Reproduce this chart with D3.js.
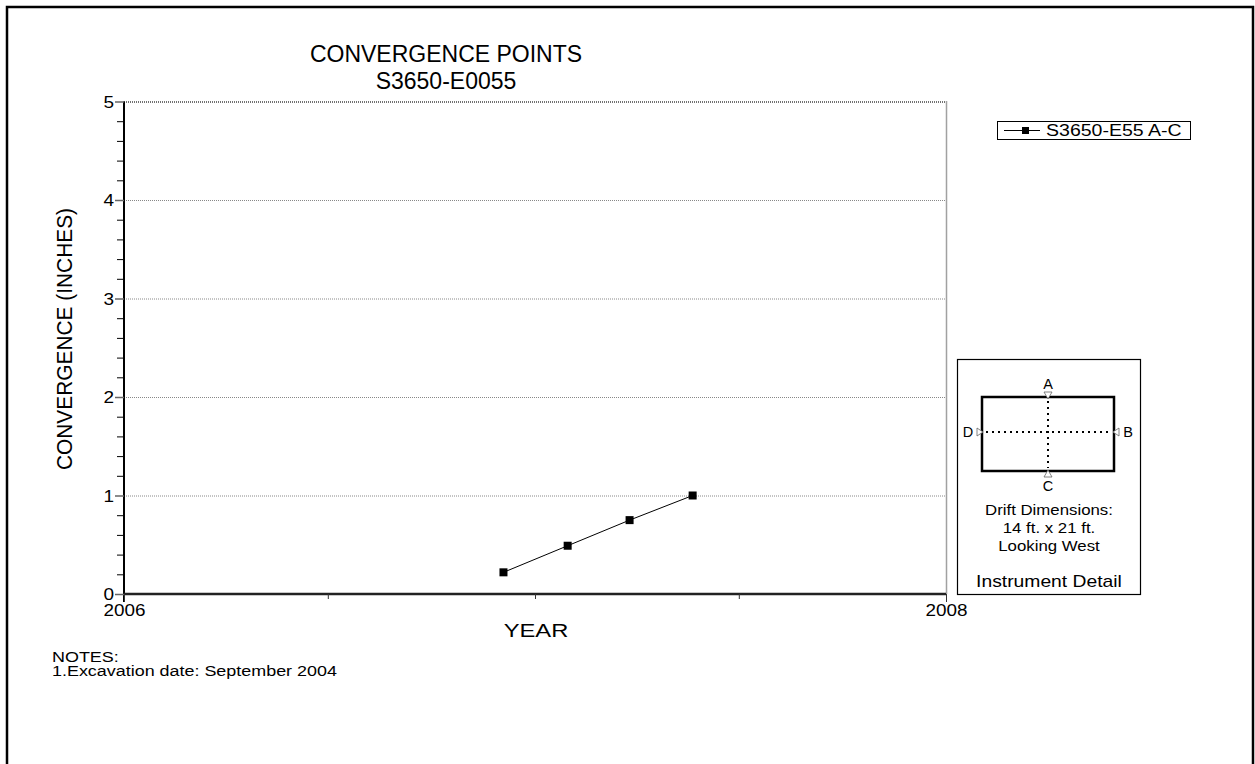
<!DOCTYPE html>
<html>
<head>
<meta charset="utf-8">
<script src="https://cdn.jsdelivr.net/npm/d3@7"></script>
<style>
  body { margin: 0; background: #fff; }
  svg text { font-family: 'Liberation Sans', Arial, sans-serif; fill: #000; }
</style>
</head>
<body>
<svg id="chart"></svg>
<script>
'use strict';

// data
const readDates   = [ '2006-12-04', '2007-01-30', '2007-03-26', '2007-05-21' ],
      convergence = [ 0.22, 0.49, 0.75, 1.00 ];

const seriesName  = 'S3650-E55 A-C',
      titleLines  = [ 'CONVERGENCE POINTS', 'S3650-E0055' ],
      yTicks      = [ 0, 1, 2, 3, 4, 5 ],
      xLabelYears = [ 2006, 2008 ],
      notes       = [ 'NOTES:', '1.Excavation date: September 2004' ],
      detailText  = [ 'Drift Dimensions:', '14 ft. x 21 ft.', 'Looking West' ];

const param = {
  width:  1255,
  height: 764,
  margin: { top: 101.5, right: 309, bottom: 170, left: 124 }
};
param.plotW = param.width - param.margin.left - param.margin.right;
param.plotH = param.height - param.margin.top - param.margin.bottom;

const parse = d3.timeParse( '%Y-%m-%d' ),
      data  = readDates.map( (d, i) => ({ date: parse( d ), v: convergence[i] }) );

// the source picture has its text a bit wider than normal
function stretch( sel, k ) {
  sel.each( function() {
    const w = this.getComputedTextLength();
    d3.select( this )
      .attr( 'textLength', w * k )
      .attr( 'lengthAdjust', 'spacingAndGlyphs' );
  });
}

const svg = d3.select( '#chart' )
              .attr( 'width', param.width )
              .attr( 'height', param.height );

// outer frame (bottom edge runs off the page)
svg.append( 'rect' )
    .attr( 'x', 7 ).attr( 'y', 7 )
    .attr( 'width', 1246 ).attr( 'height', 820 )
    .attr( 'fill', 'none' )
    .attr( 'stroke', '#000' )
    .attr( 'stroke-width', 2.5 );

const g = svg.append( 'g' )
              .attr( 'transform', `translate(${param.margin.left},${param.margin.top})` );

// scales
const x = d3.scaleTime()
            .domain( [ new Date( 2006, 0, 1 ), new Date( 2008, 0, 1 ) ] )
            .range( [ 0, param.plotW ] ),
      y = d3.scaleLinear()
            .domain( [ 0, 5 ] )
            .range( [ param.plotH, 0 ] );

// grid lines
g.append( 'g' )
    .attr( 'class', 'grid' )
  .selectAll( 'line' )
    .data( yTicks.filter( (t) => t > 0 ) )
  .enter().append( 'line' )
    .attr( 'x1', 0 )
    .attr( 'x2', param.plotW )
    .attr( 'y1', (d) => y( d ) + 0.5 )
    .attr( 'y2', (d) => y( d ) + 0.5 )
    .attr( 'stroke', (d) => d === 5 ? '#444' : '#888' )
    .attr( 'stroke-width', (d) => d === 5 ? 1.5 : 1 )
    .attr( 'stroke-dasharray', '1,1' );

// right edge of plot
g.append( 'line' )
    .attr( 'x1', param.plotW + 0.5 ).attr( 'x2', param.plotW + 0.5 )
    .attr( 'y1', 0 ).attr( 'y2', param.plotH )
    .attr( 'stroke', '#444' )
    .attr( 'stroke-width', 1.5 )
    .attr( 'stroke-dasharray', '1,1' );

// minor y ticks
const yMinor = d3.range( 0, 5.01, 0.2 ).filter( (t) => Math.abs( t - Math.round( t ) ) > 0.01 );
g.append( 'g' )
    .attr( 'class', 'y minor' )
    .call( d3.axisLeft( y ).tickValues( yMinor ).tickSize( 7 ).tickFormat( '' ) )
    .call( (s) => s.select( '.domain' ).remove() );

// y-axis
g.append( 'g' )
    .attr( 'class', 'y axis' )
    .call( d3.axisLeft( y ).tickValues( yTicks ).tickSize( 9 ).tickPadding( 1 ).tickFormat( d3.format( 'd' ) ) )
    .call( (s) => s.select( '.domain' ).attr( 'stroke-width', 2 ).attr( 'd', `M0,${param.plotH + 8}V0` ) )
    .call( (s) => s.selectAll( '.tick line' ).attr( 'stroke', '#666' ).attr( 'stroke-width', 1.5 ) )
    .call( (s) => s.selectAll( '.tick text' ).attr( 'font-size', 16.5 ).attr( 'dy', '0.36em' ).style( 'font-family', null ) )
    .call( (s) => stretch( s.selectAll( '.tick text' ), 1.15 ) );

// x-axis
const xTickDates = d3.timeMonth.every( 6 ).range( x.domain()[0], d3.timeDay.offset( x.domain()[1], 1 ) );
g.append( 'g' )
    .attr( 'class', 'x axis' )
    .attr( 'transform', `translate(0,${param.plotH})` )
    .call( d3.axisBottom( x ).tickValues( xTickDates ).tickSize( 5 ).tickPadding( 6 )
             .tickFormat( (d) => ( d.getMonth() === 0 && xLabelYears.includes( d.getFullYear() ) ) ? d.getFullYear() : '' ) )
    .call( (s) => s.select( '.domain' ).attr( 'stroke', '#222' ).attr( 'stroke-width', 2.5 ).attr( 'd', `M0,0H${param.plotW}` ) )
    .call( (s) => s.selectAll( '.tick line' ).attr( 'stroke', '#333' ).attr( 'y2', (d) => d.getMonth() === 0 && d.getFullYear() !== 2007 ? 8 : 5 ) )
    .call( (s) => s.selectAll( '.tick text' ).attr( 'font-size', 16 ).style( 'font-family', null ) )
    .call( (s) => stretch( s.selectAll( '.tick text' ).filter( (d) => d.getMonth() === 0 && xLabelYears.includes( d.getFullYear() ) ), 1.18 ) );

// data line
const line = d3.line()
                .x( (d) => x( d.date ) )
                .y( (d) => y( d.v ) );

g.append( 'path' )
    .datum( data )
    .attr( 'd', line )
    .attr( 'fill', 'none' )
    .attr( 'stroke', '#000' )
    .attr( 'stroke-width', 1 );

g.append( 'g' )
    .attr( 'class', 'points' )
  .selectAll( 'rect' )
    .data( data )
  .enter().append( 'rect' )
    .attr( 'x', (d) => x( d.date ) - 4 )
    .attr( 'y', (d) => y( d.v ) - 4 )
    .attr( 'width', 8 )
    .attr( 'height', 8 )
    .attr( 'fill', '#000' );

// titles
svg.append( 'g' )
    .attr( 'class', 'title' )
  .selectAll( 'text' )
    .data( titleLines )
  .enter().append( 'text' )
    .attr( 'x', 446 )
    .attr( 'y', (d, i) => 62 + i * 27 )
    .attr( 'text-anchor', 'middle' )
    .attr( 'font-size', 23 )
    .text( (d) => d );

// axis titles
svg.append( 'text' )
    .attr( 'x', 536 ).attr( 'y', 637 )
    .attr( 'text-anchor', 'middle' )
    .attr( 'font-size', 19 )
    .text( 'YEAR' )
    .call( stretch, 1.25 );

svg.append( 'text' )
    .attr( 'transform', 'translate(72,339) rotate(-90)' )
    .attr( 'text-anchor', 'middle' )
    .attr( 'font-size', 22 )
    .attr( 'textLength', 262 )
    .attr( 'lengthAdjust', 'spacingAndGlyphs' )
    .text( 'CONVERGENCE (INCHES)' );

// legend
const lg = svg.append( 'g' ).attr( 'class', 'legend' );
lg.append( 'rect' )
    .attr( 'x', 997.5 ).attr( 'y', 121.5 )
    .attr( 'width', 193 ).attr( 'height', 18 )
    .attr( 'fill', '#fff' )
    .attr( 'stroke', '#000' );
lg.append( 'line' )
    .attr( 'x1', 1004 ).attr( 'x2', 1040 )
    .attr( 'y1', 130.5 ).attr( 'y2', 130.5 )
    .attr( 'stroke', '#000' );
lg.append( 'rect' )
    .attr( 'x', 1022 ).attr( 'y', 127 )
    .attr( 'width', 7 ).attr( 'height', 7 );
lg.append( 'text' )
    .attr( 'x', 1046 ).attr( 'y', 136 )
    .attr( 'font-size', 16 )
    .text( seriesName )
    .call( stretch, 1.22 );

// instrument detail
const det = svg.append( 'g' ).attr( 'class', 'detail' );
det.append( 'rect' )
    .attr( 'x', 957.5 ).attr( 'y', 359.5 )
    .attr( 'width', 183 ).attr( 'height', 235 )
    .attr( 'fill', '#fff' )
    .attr( 'stroke', '#000' )
    .attr( 'stroke-width', 1.2 );
det.append( 'rect' )
    .attr( 'x', 982 ).attr( 'y', 397 )
    .attr( 'width', 132 ).attr( 'height', 74 )
    .attr( 'fill', 'none' )
    .attr( 'stroke', '#000' )
    .attr( 'stroke-width', 2.5 );
det.append( 'line' )
    .attr( 'x1', 1048 ).attr( 'x2', 1048 )
    .attr( 'y1', 401 ).attr( 'y2', 468 )
    .attr( 'stroke', '#000' ).attr( 'stroke-width', 2 )
    .attr( 'stroke-dasharray', '2,4' );
det.append( 'line' )
    .attr( 'x1', 986 ).attr( 'x2', 1110 )
    .attr( 'y1', 432 ).attr( 'y2', 432 )
    .attr( 'stroke', '#000' ).attr( 'stroke-width', 2 )
    .attr( 'stroke-dasharray', '2,4' );

// little pointers: A top, B right, C bottom, D left
const pointers = [
  { l: 'A', p: 'M1044,392L1052,392L1048,399Z', tx: 1048, ty: 389 },
  { l: 'B', p: 'M1119,428L1119,436L1113,432Z', tx: 1128, ty: 437 },
  { l: 'C', p: 'M1044,477L1052,477L1048,470Z', tx: 1048, ty: 491 },
  { l: 'D', p: 'M977,428L977,436L983,432Z',    tx: 968,  ty: 437 }
];
det.selectAll( 'path.ptr' )
    .data( pointers )
  .enter().append( 'path' )
    .attr( 'class', 'ptr' )
    .attr( 'd', (d) => d.p )
    .attr( 'fill', '#fff' )
    .attr( 'stroke', '#666' )
    .attr( 'stroke-width', 0.8 );
det.selectAll( 'text.ptr' )
    .data( pointers )
  .enter().append( 'text' )
    .attr( 'class', 'ptr' )
    .attr( 'x', (d) => d.tx )
    .attr( 'y', (d) => d.ty )
    .attr( 'text-anchor', 'middle' )
    .attr( 'font-size', 14.5 )
    .text( (d) => d.l );

det.selectAll( 'text.info' )
    .data( detailText )
  .enter().append( 'text' )
    .attr( 'class', 'info' )
    .attr( 'x', 1049 )
    .attr( 'y', (d, i) => 515 + i * 18 )
    .attr( 'text-anchor', 'middle' )
    .attr( 'font-size', 15 )
    .text( (d) => d )
    .call( stretch, 1.12 );
det.append( 'text' )
    .attr( 'x', 1049 ).attr( 'y', 587 )
    .attr( 'text-anchor', 'middle' )
    .attr( 'font-size', 17 )
    .text( 'Instrument Detail' )
    .call( stretch, 1.135 );

// notes
svg.append( 'g' )
    .attr( 'class', 'notes' )
  .selectAll( 'text' )
    .data( notes )
  .enter().append( 'text' )
    .attr( 'x', 52 )
    .attr( 'y', (d, i) => 662 + i * 14 )
    .attr( 'font-size', 14 )
    .text( (d) => d )
    .call( stretch, 1.28 );
</script>
</body>
</html>
